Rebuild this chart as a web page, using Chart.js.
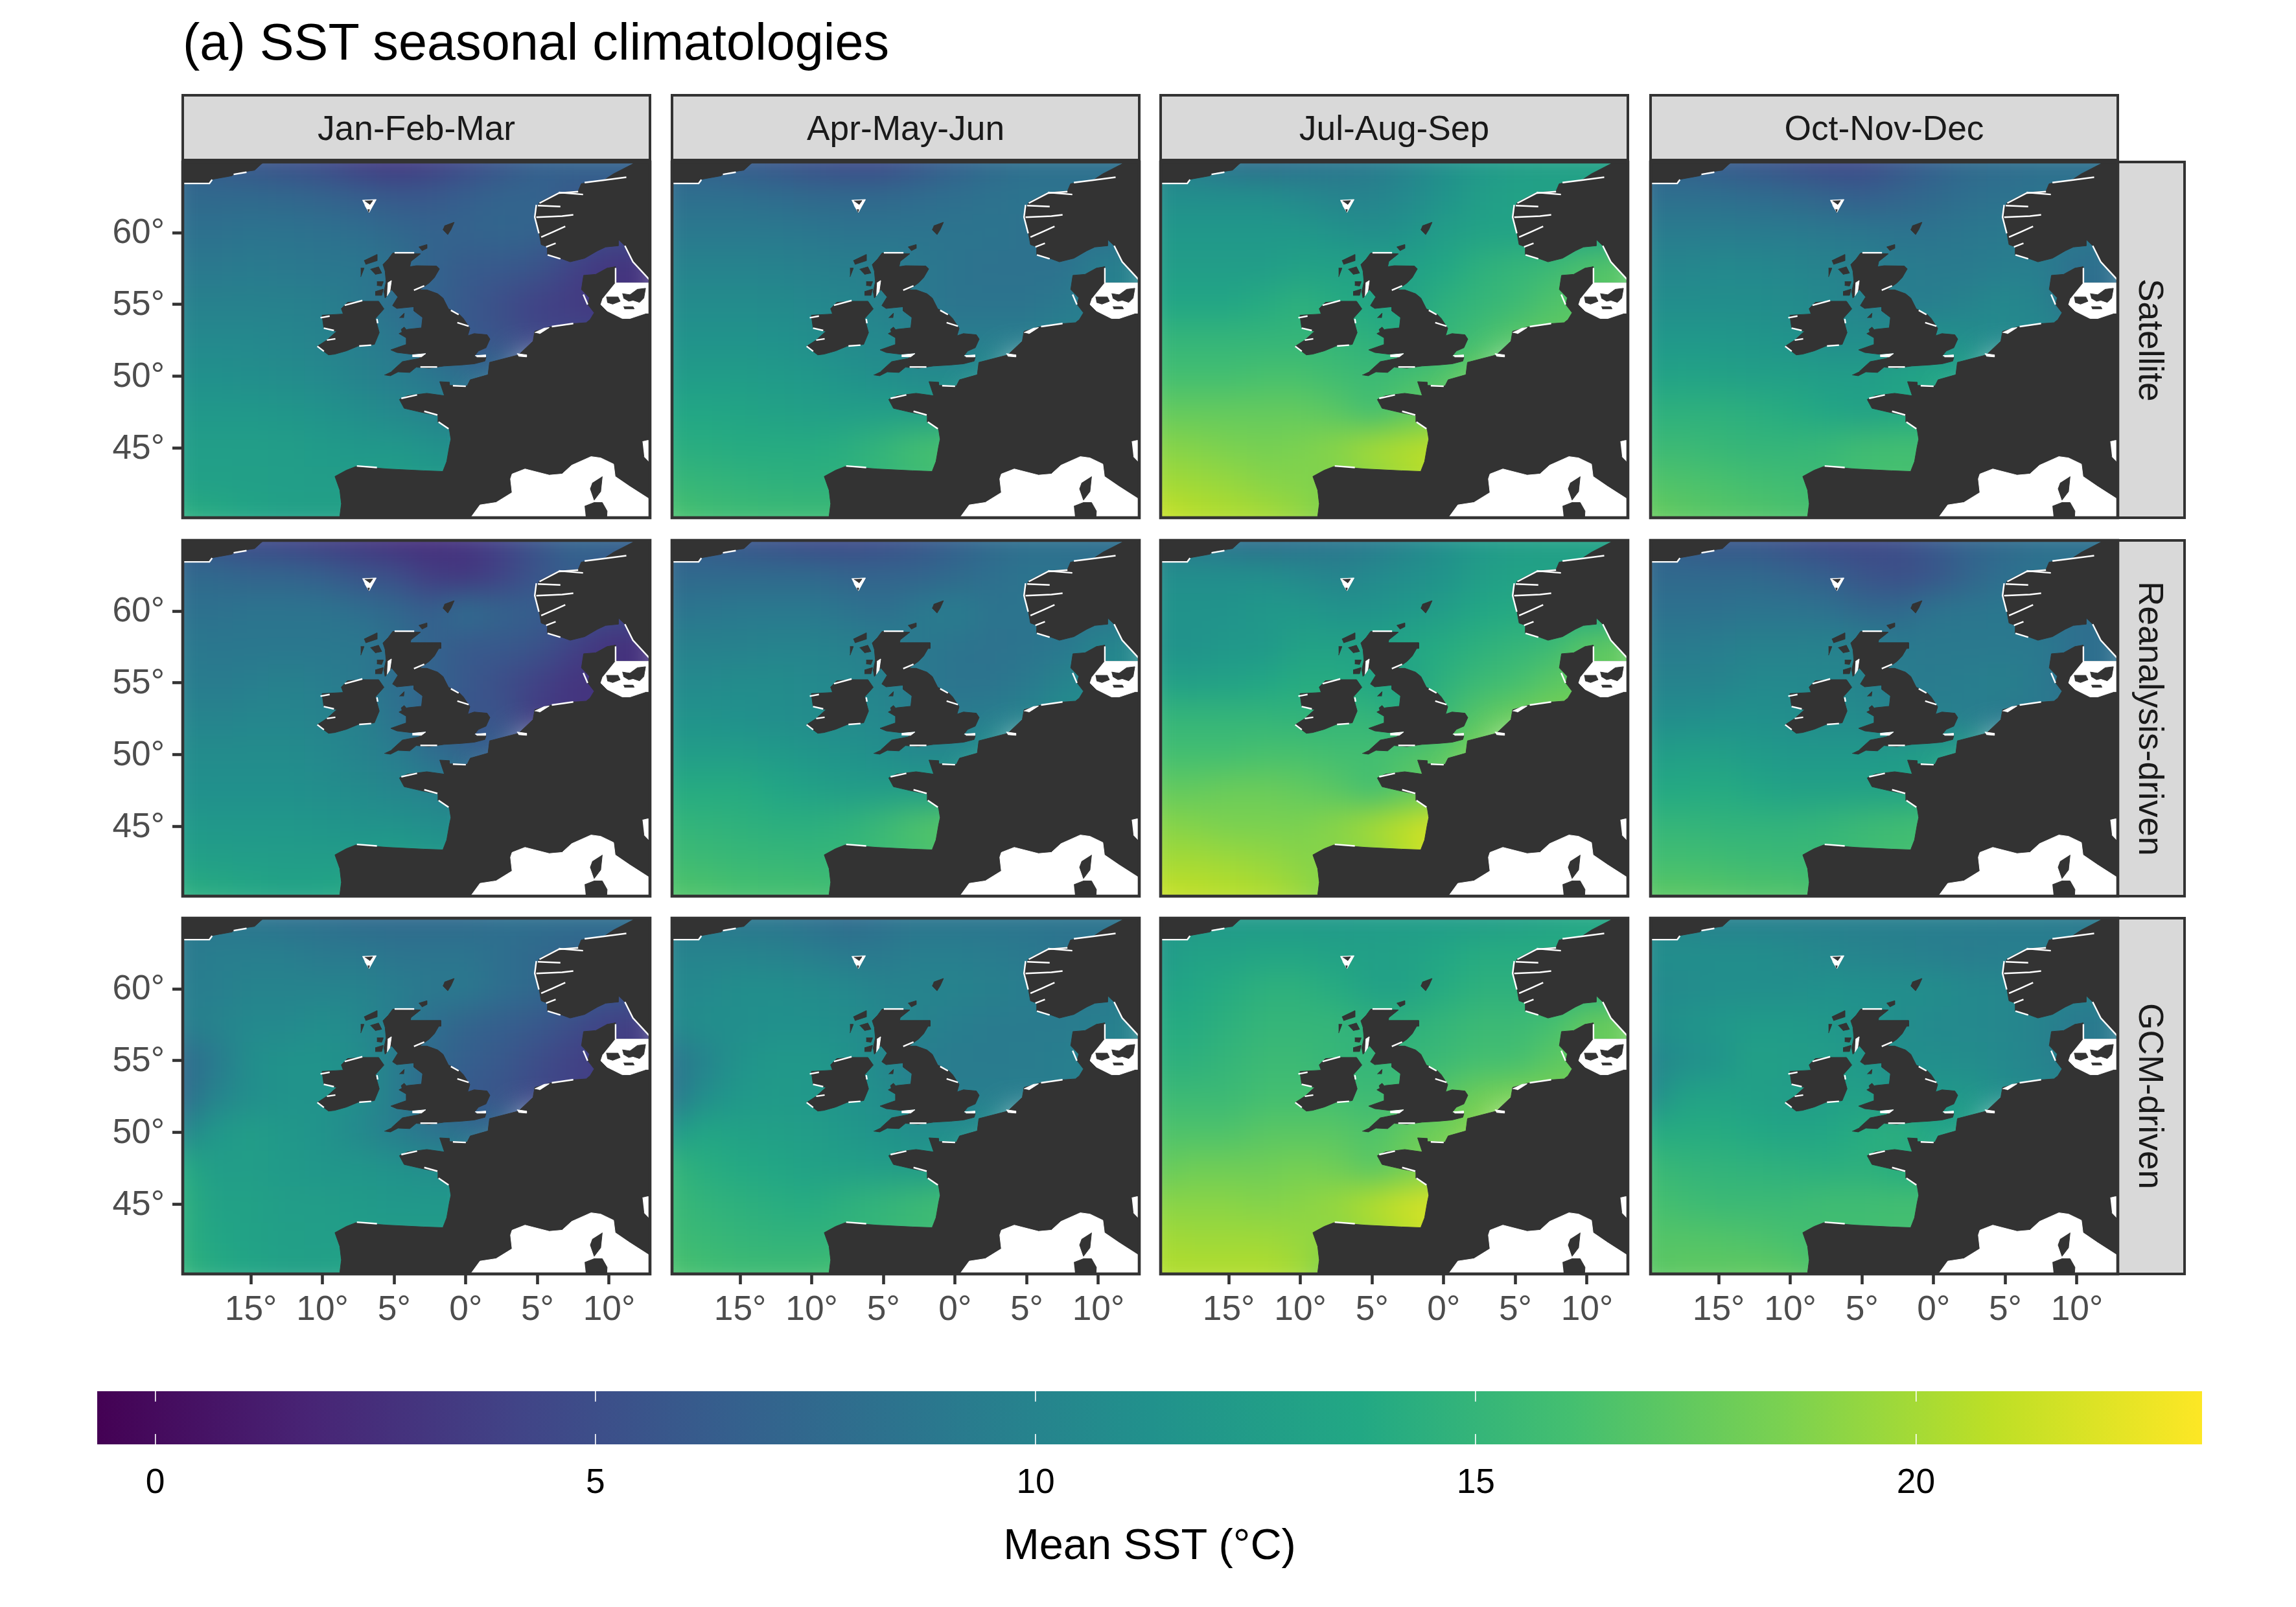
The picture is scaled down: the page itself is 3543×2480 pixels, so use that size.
<!DOCTYPE html>
<html>
<head>
<meta charset="utf-8">
<title>SST seasonal climatologies</title>
<script src="https://cdn.jsdelivr.net/npm/chart.js@4"></script>
<style>
  html, body { margin: 0; background: #fff; }
  #page { position: relative; width: 3543px; height: 2480px; overflow: hidden; font-family: "Liberation Sans", sans-serif; }
  #page canvas { position: absolute; }
  .txt { position: absolute; white-space: nowrap; }
  .strip { position: absolute; box-sizing: border-box; background: #d9d9d9; border: 4.6px solid #333; color: #1a1a1a; font-size: 53.3px; display: flex; align-items: center; justify-content: center; }
  .strip.side span { writing-mode: vertical-rl; }
</style>
</head>
<body>
<div id="page">
  <div class="txt" style="left:282px;top:19px;font-size:79.2px;">(a) SST seasonal climatologies</div>
  <div class="txt" style="left:1774px;top:2345px;font-size:66.7px;transform:translateX(-50%);">Mean SST (°C)</div>
</div>
<script>
const seasons = ["Jan-Feb-Mar", "Apr-May-Jun", "Jul-Aug-Sep", "Oct-Nov-Dec"];
const sources = ["Satellite", "Reanalysis-driven", "GCM-driven"];

const lonTicks = [-15, -10, -5, 0, 5, 10];
const latTicks = [45, 50, 55, 60];
const barTicks = [0, 5, 10, 15, 20];
const barMin = -0.66, barMax = 23.25;

// SST grid, 2.5 degree cells. rows top to bottom
const lons = [-20, -17.5, -15, -12.5, -10, -7.5, -5, -2.5, 0, 2.5, 5, 7.5, 10, 12.5];
const lats = [65, 62.5, 60, 57.5, 55, 52.5, 50, 47.5, 45, 42.5, 40];

const satJFM = [
  [7,6,5.5,5,4.5,3.5,3,3.5,4.5,5.5,6.5,7,7,7],
  [7.5,7.5,7.5,7.3,7,6.5,6,6,6.5,7,7,6,6,6],
  [8.2,8.2,8.4,8.4,8.2,8,7.5,7,7,7.2,7,5.5,5,5],
  [9,9,9.2,9,8.8,8.8,8.3,7,6.2,6,5.5,4,3,2.8],
  [9.8,9.8,9.8,9.8,9.6,9,8,7,6,5,4,3.5,3,3],
  [10.5,10.5,10.5,10.2,10,9.5,9,7.5,6,5.5,4.5,4.5,4.5],
  [11.2,11.2,11,10.8,10.5,10,9.5,8.8,8,7.5],
  [12,12,12,11.8,11.5,11,10.5,10,9.5],
  [12.6,12.6,12.6,12.5,12.3,12,12,11.5,11],
  [13,12.9,12.8,12.6,12.5,12.5,12.8,12.5,12],
  [14.5,14,13.5,13,13,13]
];
const satAMJ = [
  [7,6.5,6,5.5,5,4.5,4.5,5.5,6.5,7.5,8,8,8,8],
  [8,8,8,7.8,7.5,7.5,7.5,7.8,8,8.3,8.5,8.5,8.5,8.5],
  [9,9,9,9,8.8,8.5,8.5,8.5,8.5,8.5,8.3,8,8,8],
  [10,10,10,9.9,9.7,9.6,9.6,9,8.5,8.3,8.3,8.3,9.5,10],
  [10.8,10.8,10.8,10.7,10.4,10.2,9.8,9,8.5,8.5,8.5,9,9.5,10],
  [11.5,11.5,11.5,11.4,11,10.6,10.5,10,9.5,9.5,9.5,10,10],
  [12.3,12.4,12.4,12.2,12,11.5,11,10.6,10.6,10.8],
  [13.5,13.5,13.3,13,12.8,12.6,12.6,12.5,12.5],
  [14.3,14.2,14,14,14,14.3,15,16,16.3],
  [15.2,15,14.8,14.6,14.5,14.5,15,15.5,16],
  [16.5,16,15.8,15.7,15.7,15.8]
];
const satJAS = [
  [10,9,8,7.5,8,8.5,9,10,11,12,12.5,12.8,13,13],
  [11,11,11,11,10.5,10,10,10.5,11.5,12.5,13,13,13,13],
  [12,12,12,12,12,11.5,11,11.5,12.5,13,13.2,13,13,13],
  [12.5,12.5,12.5,12.5,13,13,13,13,13.5,14.5,15,15.5,16.5,17],
  [13.5,13.5,13.5,14,14.5,14,13.5,13,14.5,15,15.5,16.5,17,17],
  [15,15,15,15,15,15,14.5,14,15,16,17,17.5,17.5],
  [16,16,16,16.2,16.2,15.8,15.5,16,16.5,18],
  [17.5,17.5,17.5,17.5,17.5,17,16,17,18],
  [19,18.8,18.5,18.3,18.5,19,20,20.5,21],
  [20,19.8,19.5,19,18.8,18.5,19,20,21],
  [21.5,20.8,20.5,20.2,19.5,18.5]
];
const satOND = [
  [7,6.5,6,5.5,5,4.5,4.5,5.5,6.5,7.5,7.8,8,8,8],
  [8,8,8,7.8,7.5,7,6.5,7,7.5,8,8.3,8.5,8.5,8.5],
  [9.3,9.3,9.3,9.2,9.2,9,8.8,8.5,8.5,8.8,9,9,9,9],
  [10.2,10.2,10.5,10.4,10.2,10,9.8,9.4,9.2,9.2,9.5,9.5,8,8],
  [11,11,11,11,10.8,10.4,10,9.5,9.5,10,10.5,10,8,8],
  [12,12,12,11.8,11.5,11,11,11,11.5,11,10.5,10.5,10.5],
  [13,13.2,13,12.8,12.8,12.5,12.5,13,13.5,13],
  [14.5,14.5,14.5,14.3,14,13.5,13,13.5,13.5],
  [15.5,15.5,15.2,15,15,15.2,15.8,16,16],
  [16.7,16.5,16.3,16,15.8,15.5,16,16.2,16],
  [17.8,17.3,17,16.8,16.5,16.3]
];
const reaJFM = [
  [6,5,4.5,4,3.5,3,2.5,2.5,3,4,5.5,7,7,7],
  [7.5,7.5,7,7,6.5,5.5,5,3.5,3,4,5.5,6.5,6,5],
  [8.2,8.2,8.5,8.5,8.5,8,7.5,6.5,8,7,6.5,5.5,5,5],
  [9,8.8,8.8,8.8,8.8,9,8,7,6,6,5.5,4,2.8,2.5],
  [9.5,9.2,9.5,9.8,9.5,9,8,7,6,5,4,3,3,3],
  [10.2,10,10.2,10.2,10,9.8,8.5,7,5.5,5.5,3.5,3,3],
  [10.8,10.8,10.8,10.8,10.5,10,9.5,8,7.2,6.5],
  [11.2,11.2,11.2,11.2,11,10.7,10.2,10,9],
  [12.2,12,12,12,11.8,11.5,11.5,11,11],
  [13,12.8,12.6,12.5,12.5,12.5,13,12.5,12],
  [14.5,14.2,13.8,13.3,13.5,14]
];
const reaAMJ = [
  [6.5,6,5.5,5,4.5,4.5,4.8,5.5,6.5,7.5,8,8,8,8],
  [7.5,7.5,7.5,7.5,7.5,7,7,7,7.5,8,8.5,8.5,8,8],
  [8.5,8.7,9,9,9,8.5,8,9,9.5,8.5,8.5,8.5,8.5,8.5],
  [9.8,9.8,9.8,10,10,9.8,9.5,9,8.5,8.3,8.5,8.8,10,10.5],
  [10.6,10.6,10.8,10.8,10.6,10.3,9.8,9,8.5,8.5,9,10,10.5,10.5],
  [11.5,11.5,11.3,11,10.8,10.6,10.5,9.5,9.2,9.5,10,11,11],
  [12.5,12.5,12.5,12.2,11.8,11.5,11,10.5,10.5,11.5],
  [14,14,14,13.5,13,12.5,12.5,12.5,12.5],
  [15,14.8,14.6,14.4,14.4,14.7,15.5,16.5,17],
  [15.8,15.6,15.3,15.2,15.1,15.1,15.5,16,16.5],
  [16.8,16.6,16.3,16.2,16.2,16]
];
const reaJAS = [
  [9,8.5,8,7.5,8,8.5,9,10,11,12,12.5,12.8,13,13],
  [11,11,11,11,10.5,10,10.5,11,11.5,12.5,13,13,13,13],
  [11.5,11.5,11.5,12,12,11.5,11.5,12,12.5,13.5,13.8,14,13.5,13.5],
  [11.5,11.5,12,12,13,13,13,13.5,14,14.5,15,15.5,17,17.5],
  [13,12.8,13,13.5,14,14,13.5,13,14.5,15.5,16,17,17.5,17.5],
  [15,15,15,15,14.8,15,15,14,15.5,17,18,18.5,18.5],
  [16,16,16,16.2,16.2,16,16,16.5,17,18.5],
  [17.5,17.5,17.8,17.8,17.5,17,16,17,18],
  [19,18.8,18.5,18.5,18.5,19,20,21,22],
  [20,20,19.8,19.5,19,18.8,19,20.5,22],
  [21.5,21,20.8,20.5,19.8,18.5]
];
const reaOND = [
  [7,6,5.5,5.5,5,4.5,4.5,5,6,7,7.5,8,8,8],
  [7.5,7.5,7.5,7.5,7,6.5,5.5,5,5.5,7,8,8.5,8.5,8.5],
  [8.2,8.2,8.2,8.5,8.5,8.3,7.5,7.5,8.5,8.7,8.8,8.5,8,8],
  [9.2,9.2,9.5,9.8,9.8,10,9.8,9.2,9,9,9,9,8,8],
  [10,10,10,10.5,10.5,10.3,10,9.3,9.2,9.5,9.7,9,8,8],
  [11,11,11.3,11.3,11,10.8,10.8,10,9.8,9.5,9,9,9],
  [12.5,12.8,12.8,12.3,12,12,12,12.2,12.8,13],
  [13.8,13.8,14,13.5,13,13,13,13,13.3],
  [15,15,14.8,14.8,14.8,15,15.5,15.8,16],
  [16,16,15.8,15.6,15.5,15.3,15.6,16,16],
  [17.2,17.2,17,16.8,16.8,16.3]
];
const gcmJFM = [
  [9,8.5,8.5,8,8,7.5,7.5,7.5,7.5,8,8,8,8,8],
  [9,9.5,9.5,9.5,9,9,8.5,8.5,8.5,8,7.5,7,7,7],
  [9.5,9.5,10,10,10,10,9.5,9,9,8,7.5,6.5,6,6],
  [9.5,10,10.5,10.5,11,10.5,9.5,8,7,6.5,6,5,4,3.5],
  [7.5,9,11,11.5,11.5,11,9.5,7.5,6.5,6,5,4,3.5,3.5],
  [7.5,10,11,11.5,11.5,11,9.5,7.5,6,5.5,4.5,4,4],
  [10,12,12.5,12,11.5,10.5,9.5,8.5,8,7.5],
  [14,12.5,12.5,12.2,11.8,11.8,11.5,11,11],
  [14.5,13,13,12.5,12.5,12.2,12,12,12],
  [14.5,13.5,13,12.8,12.6,12.6,12.5,12.5,12.5],
  [15,14,13.5,13,13,13.5]
];
const gcmAMJ = [
  [9,9,8.5,8.5,8,7.5,8,8.5,8.5,8.5,8.5,8.5,8.5,8.5],
  [10,10,10,9.8,9.5,9,9,9.5,9.5,9.3,9,8.5,8.5,8.5],
  [10.5,10.5,11,11,10.8,10.5,10,10,10,9.7,9.5,9,9,9],
  [10.5,11,11,11.2,11.2,11,10.5,10,9.5,9.2,9.2,9.2,9.5,10],
  [8.5,10,11.5,12,12,11.5,10.3,9.5,9.2,9.2,9.3,9.5,10,10],
  [8.5,11,12,12.2,12,11.5,11,10,9.5,9.5,9.5,9.5,9.5],
  [12,13.5,13,12.8,12.5,12,11.5,11,11,11],
  [15,14.2,13.8,13.5,13,12.8,12.5,12.3,12.5],
  [15.5,14.8,14.5,14.2,14,14.5,15,15.5,16],
  [15.8,15.3,15,14.8,14.8,14.8,15,15.5,15.5],
  [16.5,16,15.8,15.8,15.8,16.2]
];
const gcmJAS = [
  [12,12,12,12,12,12,12.3,12.3,12.3,12.3,12.5,13,13.5,13.5],
  [12,13,13,13.3,13.3,13,12.8,13,13.5,14,14,14,14,14],
  [13,13.5,14,14.5,14.5,14,13,13,14,14.5,14.5,14.5,14.5,14.5],
  [14,14,14.5,15,15,15,14.5,14.5,15,15.5,15.5,16,17.5,18],
  [14.5,14.5,15,15.5,15.5,15,15,15,15.5,16,16,17,17.5,17.5],
  [15.5,15.5,15.5,16,16,16,15.5,16,17,18,18.5,18.5,18.5],
  [16.5,16.5,16.5,17,17,17,16.5,17.5,18,19],
  [17.5,18,18,18,18.3,18,17,18,19],
  [19,19,19,18.8,19,19.5,20.5,21.5,22],
  [20,19.8,19.8,19.8,19.5,19,19.5,20.5,22],
  [20.5,20.5,20.5,20.5,20,18]
];
const gcmOND = [
  [10,10,9.5,9.5,9.5,9.5,9.5,9.5,9.5,9.5,9.3,9.3,9,9],
  [11,11,11,11,10.7,10.3,10,9.8,9.5,9.3,9.5,9.5,9.5,9.5],
  [10.5,10.7,11,11,11,11.3,11.2,11,11,10.5,10.3,10,10,10],
  [11,11.5,12,12.3,12.3,12,11.5,11,10.5,10.5,10.3,10,9,9],
  [10,11,11.5,13,12.5,12.5,12,11,11,10.8,10.5,10,9,9],
  [10.5,13,13.2,12.7,12.5,12.5,13,11.5,12,12,11,10.5,10.5],
  [14,14,14,13.7,13.3,13.5,14,14.5,13.5,13],
  [15.5,15,14.8,14.7,14.5,14.3,14.5,14,14],
  [16.2,15.8,15.5,15.5,15.5,15.8,15.8,16,16],
  [16.8,16.8,16.7,16.5,16.2,15.8,15.8,16,16],
  [17,17.3,17.3,17.4,17.2,16.5]
];
const grids = [
  [satJFM, satAMJ, satJAS, satOND],
  [reaJFM, reaAMJ, reaJAS, reaOND],
  [gcmJFM, gcmAMJ, gcmJAS, gcmOND]
];

// coast outlines as [lon, lat]
const iceland = [[-22,67],[-22,63.48],[-17.89,63.48],[-17.67,63.71],[-16.32,63.95],[-16.09,64.14],[-14.74,64.34],[-14.3,64.74],[-13.96,65.03],[-13.7,67]];
const scandinavia = [[11.9,66],[11.66,64.78],[10.31,64.09],[9.64,63.65],[8.06,63.4],[7.84,62.88],[6.49,62.79],[5.14,62.1],[4.92,61.67],[4.81,61.07],[5.03,60.47],[5.26,59.17],[5.71,59],[5.71,58.48],[6.6,58.22],[7.28,57.97],[8.29,58.22],[9.19,58.74],[9.75,59],[10.65,59.09],[10.65,59.52],[11.1,59.09],[11.66,57.97],[12.78,56.76],[14,56.5],[14,66]];
const continent = [[-8.79,38],[-8.79,40.29],[-8.68,41.15],[-8.79,42.1],[-9.13,43.05],[-8.34,43.48],[-7.67,43.74],[-5.42,43.57],[-2.95,43.45],[-1.6,43.4],[-1.33,44.09],[-1.15,45.12],[-1.04,45.64],[-1.15,46.33],[-1.94,46.84],[-1.94,47.28],[-3.17,47.53],[-4.3,47.79],[-4.63,48.4],[-4.07,48.66],[-2.72,48.83],[-1.49,48.66],[-1.82,49.64],[-1.15,49.6],[-1.15,49.38],[0.09,49.34],[0.31,49.77],[1.55,50.12],[1.66,50.98],[3.68,51.5],[4.69,52.45],[4.81,53.14],[5.82,53.43],[7.16,53.65],[8.4,53.74],[8.67,53.95],[8.96,54.43],[8.52,55],[8.63,55.47],[8.07,56.05],[8.22,57.03],[9.07,57.1],[9.86,57.53],[10.44,57.63],[10.42,56.5],[14,56.5],[14,38]];
const britain = [[-5.68,50.11],[-5.26,50.05],[-4.73,50.32],[-3.91,50.28],[-3.46,50.65],[-2.56,50.58],[-1.51,50.73],[-0.32,50.8],[0.58,50.88],[1.33,51.07],[1.41,51.33],[0.58,51.4],[0.88,51.77],[1.41,52],[1.68,52.6],[1.48,52.9],[0.58,52.98],[0.13,52.83],[0.28,53.35],[-0.17,54.03],[-0.47,54.33],[-1.21,54.7],[-1.59,55.45],[-1.96,55.75],[-2.71,56.02],[-3.24,56.02],[-2.56,56.5],[-2.19,56.88],[-1.84,57.48],[-2.04,57.68],[-3.46,57.7],[-3.91,57.63],[-3.83,58],[-3.16,58.53],[-5.1,58.58],[-5.41,58.16],[-5.78,57.78],[-5.63,57.33],[-5.56,56.58],[-5.71,55.9],[-5.63,55.45],[-5.18,56.05],[-4.74,55.53],[-5.11,54.93],[-4.81,54.73],[-3.61,54.85],[-3.61,54.55],[-3.01,54.1],[-3.09,53.38],[-4.06,53.28],[-4.66,52.98],[-4.14,52.68],[-4.14,52.23],[-5.23,51.85],[-4.81,51.67],[-3.83,51.55],[-2.71,51.63],[-3.3,51.25],[-4.43,51.03],[-5.18,50.35]];
const ireland = [[-8.7,54.7],[-8.26,55.15],[-7.2,55.23],[-6.08,55.23],[-5.71,54.7],[-6.31,54.03],[-6.04,53.05],[-6.38,52.23],[-7.51,52.12],[-8.33,51.78],[-9.15,51.55],[-9.58,51.5],[-10.36,52.1],[-9.69,52.53],[-9.01,53.14],[-9.91,53.4],[-10.03,54.26],[-8.57,54.34]];
const moray = [[-3.97,57.8],[-1.75,57.8],[-1.75,57.4],[-3.97,57.4]]; // filled in on the two model rows
const islands = [
  [[-7.1,58.05],[-6.2,58.48],[-6.2,58.05],[-6.99,57.79]],
  [[-7.33,57.53],[-7.1,57.53],[-7.33,56.93]],
  [[-6.66,57.45],[-6.09,57.62],[-5.87,57.19],[-6.32,57.1]],
  [[-6.2,56.59],[-5.76,56.59],[-5.87,56.29],[-6.2,56.33]],
  [[-6.32,55.9],[-5.76,56.07],[-5.87,55.64],[-6.32,55.64]],
  [[-3.28,59],[-2.72,59.17],[-2.72,58.91],[-3.06,58.74]],
  [[-1.49,60.47],[-0.81,60.72],[-1.04,60.21],[-1.26,59.86],[-1.6,60.21]],
  [[-7.05,62.2],[-6.5,62.22],[-6.7,61.95]],
  [[-6.85,61.6],[-6.72,61.6],[-6.78,61.42]],
  [[-4.63,54.08],[-4.3,54.4],[-4.34,54.08]],
  [[-4.52,53.26],[-4.3,53.43],[-4.12,53.22],[-4.41,52.88]],
  [[9.52,43.05],[9.41,42],[8.96,41.41],[8.69,42.19],[8.85,42.62]],
  [[8.29,40.98],[8.96,41.24],[9.52,41.24],[9.86,40.64],[9.75,39],[8.51,39]],
  [[9.8,55.53],[10.62,55.53],[10.77,55.23],[10.25,55.03],[9.87,55.15]],
  [[10.92,55.76],[11.45,55.68],[11.97,56.06],[12.54,56.13],[12.42,55.45],[12.12,55.15],[11.67,55.3],[11.37,55.23],[11,55.45]],
  [[11,54.85],[11.67,54.85],[11.75,54.7],[11.07,54.7]]
];
const mediterranean = [[0.2,39],[0.42,40.29],[0.99,41.07],[2.11,41.24],[3.23,41.93],[3.12,42.88],[3.23,43.22],[4.13,43.57],[5.82,43.14],[6.72,43.22],[7.39,43.83],[8.74,44.43],[9.41,44.34],[10.31,43.91],[10.42,43.05],[11.43,42.36],[12.78,41.5],[14,40.5],[14,39]];
const adriatic = [[12.33,45.47],[12.67,45.55],[14,45.55],[14,44.09],[12.78,44.09],[12.45,44.43]];
const baltic = [[10.42,56.5],[14,56.5],[14,54.4],[12.57,54.4],[11.45,54.03],[10.92,54.03],[9.87,54.55],[9.42,55],[9.57,55.45]];
const whitePatches = [
  [[4.81,53.05],[5.47,53.36],[5.82,53.4],[5.15,52.97]],
  [[3.57,51.59],[4.24,51.5],[4.24,51.36],[3.68,51.41]],
  [[0.65,51.45],[1.38,51.5],[1.38,51.36],[0.76,51.36]],
  [[-3.73,51.5],[-2.8,51.59],[-3.1,51.36],[-3.73,51.38]],
  [[-5.45,56.5],[-5.19,56.67],[-5.3,55.9],[-5.5,55.6]],
  [[-7.22,62.25],[-6.25,62.3],[-6.5,61.85],[-6.75,61.4],[-7.05,61.9]]
];
const slivers = [
  [[-19.9,63.42],[-17.89,63.42],[-17.7,63.68]], [[-16.2,64.05],[-15.3,64.2]],
  [[8.29,63.48],[9.64,63.65],[11.2,63.85]], [[7.84,62.85],[6.49,62.75],[5.14,62.05]], [[6.49,62.79],[8.18,62.65]],
  [[5.03,61.88],[6.6,61.81]], [[4.92,61.93],[4.81,61.07],[5.1,59.95]], [[4.92,61.07],[6.72,61.15],[7.5,61.24]],
  [[5.26,59.69],[6.04,60.03],[6.94,60.43]], [[5.6,59],[6.27,59.26]], [[5.71,58.45],[6.6,58.18]],
  [[11.1,59.09],[11.66,57.97],[12.78,56.76]], [[10.45,57.55],[10.45,56.5]],
  [[-10.14,54.08],[-9.5,54.2]], [[-9.91,53.36],[-9.2,53.2]], [[-9.69,52.53],[-9.1,52.62]], [[-10.36,52.1],[-9.9,51.75]],
  [[-6.2,54.0],[-6.15,53.7]], [[-7.44,52.12],[-6.6,52.18]], [[-8.45,54.95],[-7.22,55.28]],
  [[-4.97,58.6],[-3.6,58.6]], [[-3.62,56],[-2.9,56.3]], [[-1.04,54.6],[-0.5,54.3]], [[-0.59,53.74],[0.2,53.5]],
  [[8.2,55.7],[8.5,55.0]], [[6,53.47],[7.5,53.68]],
  [[-4.5,48.48],[-3.4,48.72]], [[-2.9,47.58],[-1.98,47.32]], [[-1.9,46.84],[-1.2,46.36]], [[-7.6,43.78],[-6.2,43.67]],
  [[-3.17,50.66],[-2,50.66]], [[0.0,49.32],[-0.9,49.36]]
];

const viridisStops = ["#440154","#482475","#414487","#355f8d","#2a788e","#21918c","#22a884","#44bf70","#7ad151","#bddf26","#fde725"];
const landColor = "#333333";

// top-left pixel of each panel
const panelW = 721, panelH = 549;
const colX = [282, 1037, 1791, 2547];
const rowY = [250, 834, 1417];
const marginL = 130, marginT = 45, marginR = 45, marginB = 110;

const page = document.getElementById("page");

function viridis(v) {
  const t = Math.min(1, Math.max(0, (v - barMin) / (barMax - barMin))) * (viridisStops.length - 1);
  const i = Math.min(Math.floor(t), viridisStops.length - 2);
  const a = parseInt(viridisStops[i].slice(1), 16), b = parseInt(viridisStops[i + 1].slice(1), 16);
  const f = t - i;
  const mix = s => Math.round(((a >> s) & 255) * (1 - f) + ((b >> s) & 255) * f);
  return `rgb(${mix(16)},${mix(8)},${mix(0)})`;
}

const toXY = pts => pts.map(p => ({ x: p[0], y: p[1] }));

function area(pts, color, order) {
  return { type: "line", data: toXY(pts), fill: "shape", backgroundColor: color, borderColor: color,
           borderWidth: 1, pointRadius: 0, tension: 0, order: order };
}

function cells(grid) {
  const pts = [], cols = [];
  grid.forEach((row, i) => row.forEach((v, j) => {
    pts.push({ x: lons[j], y: lats[i] });
    cols.push(viridis(v));
  }));
  return { type: "scatter", data: pts, pointStyle: "rect", pointRadius: 40, pointBorderWidth: 0,
           pointBackgroundColor: cols, clip: false, order: 100 };
}

// smooths the cell layer, the cells are coarse
const smoothCells = {
  id: "smoothCells",
  afterDatasetDraw(chart, args) {
    if (args.index !== 0) return;
    const c = chart.canvas, ctx = chart.ctx, a = chart.chartArea;
    const copy = document.createElement("canvas");
    copy.width = c.width; copy.height = c.height;
    copy.getContext("2d").drawImage(c, 0, 0);
    ctx.save();
    ctx.clearRect(0, 0, c.width, c.height);
    ctx.beginPath();
    ctx.rect(a.left, a.top, a.right - a.left, a.bottom - a.top);
    ctx.clip();
    ctx.filter = "blur(24px)";
    ctx.drawImage(copy, 0, 0);
    ctx.restore();
  }
};

const panelFrame = {
  id: "panelFrame",
  afterDraw(chart) {
    const ctx = chart.ctx, a = chart.chartArea;
    ctx.save();
    ctx.strokeStyle = "#333";
    ctx.lineWidth = 4.6;
    ctx.strokeRect(a.left, a.top, a.right - a.left, a.bottom - a.top);
    ctx.restore();
  }
};

function drawPanel(r, c) {
  const canvas = document.createElement("canvas");
  canvas.width = panelW + marginL + marginR;
  canvas.height = panelH + marginT + marginB;
  canvas.style.left = (colX[c] - marginL) + "px";
  canvas.style.top = (rowY[r] - marginT) + "px";
  page.appendChild(canvas);

  const ds = [cells(grids[r][c])];
  ds.push(area(continent, landColor, 60), area(scandinavia, landColor, 60), area(iceland, landColor, 60));
  ds.push(area(britain, landColor, 60), area(ireland, landColor, 60));
  if (r > 0) ds.push(area(moray, landColor, 60));
  ds.push(area(mediterranean, "#fff", 50), area(adriatic, "#fff", 50), area(baltic, "#fff", 50));
  whitePatches.forEach(p => ds.push(area(p, "#fff", 50)));
  islands.forEach(p => ds.push(area(p, landColor, 40)));
  slivers.forEach(p => ds.push({ type: "line", data: toXY(p), borderColor: "#fff", borderWidth: 2.4, pointRadius: 0, fill: false, order: 30 }));

  const leftCol = c === 0, lastRow = r === 2;
  new Chart(canvas, {
    data: { datasets: ds },
    plugins: [smoothCells, panelFrame],
    options: {
      responsive: false,
      animation: false,
      devicePixelRatio: 1,
      layout: { padding: { top: marginT, right: marginR, left: 0, bottom: 0 } },
      plugins: { legend: { display: false }, tooltip: { enabled: false } },
      scales: {
        x: {
          type: "linear", min: -19.75, max: 12.85,
          afterBuildTicks: s => { s.ticks = lonTicks.map(v => ({ value: v })); },
          afterFit: s => { s.height = marginB; },
          border: { display: false, z: 1 },
          grid: { z: 1, drawOnChartArea: false, drawTicks: lastRow, tickLength: 16, tickWidth: 4.6, tickColor: "#333" },
          ticks: { z: 1, display: lastRow, color: "#4d4d4d", font: { family: "Liberation Sans", size: 53.3 }, padding: 8, maxRotation: 0, autoSkip: false,
                   callback: v => Math.abs(v) + "°" }
        },
        y: {
          type: "linear", min: 40.18, max: 64.91,
          afterBuildTicks: s => { s.ticks = latTicks.map(v => ({ value: v })); },
          afterFit: s => { s.width = marginL; },
          border: { display: false, z: 1 },
          grid: { z: 1, drawOnChartArea: false, drawTicks: leftCol, tickLength: 16, tickWidth: 4.6, tickColor: "#333" },
          ticks: { z: 1, display: leftCol, color: "#4d4d4d", font: { family: "Liberation Sans", size: 53.3 }, padding: 12, autoSkip: false, labelOffset: 1.5,
                   callback: v => v + "°" }
        }
      }
    }
  });
}

function addStrip(cls, x, y, w, h, text) {
  const d = document.createElement("div");
  d.className = "strip " + cls;
  d.style.cssText = `left:${x}px;top:${y}px;width:${w}px;height:${h}px`;
  d.innerHTML = `<span>${text}</span>`;
  page.appendChild(d);
}

seasons.forEach((s, c) => addStrip("top", colX[c] - 2, 145, panelW + 4, 104, s));
sources.forEach((s, r) => addStrip("side", colX[3] + panelW - 2, rowY[r] - 2, 107, panelH + 4, s));

for (let r = 0; r < 3; r++) for (let c = 0; c < 4; c++) drawPanel(r, c);

// colour bar
const barCanvas = document.createElement("canvas");
barCanvas.width = 3443; barCanvas.height = 200;
barCanvas.style.left = "50px"; barCanvas.style.top = "2147px";
page.appendChild(barCanvas);
new Chart(barCanvas, {
  type: "bar",
  data: {
    labels: ["Mean SST"],
    datasets: [{
      data: [[barMin, barMax]],
      barPercentage: 1, categoryPercentage: 1, borderWidth: 0,
      backgroundColor: ctx => {
        const a = ctx.chart.chartArea;
        if (!a) return viridisStops[0];
        const g = ctx.chart.ctx.createLinearGradient(a.left, 0, a.right, 0);
        viridisStops.forEach((col, i) => g.addColorStop(i / (viridisStops.length - 1), col));
        return g;
      }
    }]
  },
  options: {
    indexAxis: "y",
    responsive: false,
    animation: false,
    devicePixelRatio: 1,
    layout: { padding: { left: 100, right: 95, top: 0, bottom: 0 } },
    plugins: { legend: { display: false }, tooltip: { enabled: false } },
    scales: {
      y: { display: false },
      x: {
        type: "linear", min: barMin, max: barMax,
        afterBuildTicks: s => { s.ticks = barTicks.map(v => ({ value: v })); },
        afterFit: s => { s.height = 118; },
        border: { display: false, dash: [16, 50, 16], z: 1 },
        grid: { z: 1, color: "#fff", lineWidth: 1.6, drawTicks: false },
        ticks: { z: 1, color: "#000", font: { family: "Liberation Sans", size: 53.3 }, padding: 28, maxRotation: 0, autoSkip: false }
      }
    }
  }
});
</script>
</body>
</html>
